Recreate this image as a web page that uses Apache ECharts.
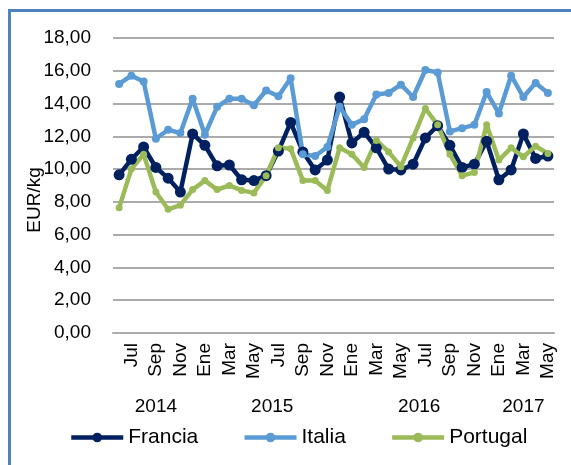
<!DOCTYPE html>
<html>
<head>
<meta charset="utf-8">
<script src="https://cdn.jsdelivr.net/npm/echarts@6/dist/echarts.min.js"></script>
<style>
  html, body { margin: 0; padding: 0; background: #fff; }
  #chart { width: 571px; height: 465px; }
</style>
</head>
<body>
<div id="chart"></div>
<script>
// meses jun 2014 - may 2017
const months = ['Jun','Jul','Ago','Sep','Oct','Nov','Dic',
  'Ene','Feb','Mar','Abr','May','Jun','Jul','Ago','Sep','Oct','Nov','Dic',
  'Ene','Feb','Mar','Abr','May','Jun','Jul','Ago','Sep','Oct','Nov','Dic',
  'Ene','Feb','Mar','Abr','May'];
// year label -> centre of its month group (in month slots)
const years = ['2014', '2015', '2016', '2017'];
const yearCenters = [3.5, 13, 25, 33.5];

const francia = [9.65, 10.6, 11.35, 10.1, 9.45, 8.6, 12.15, 11.45, 10.2, 10.25, 9.35, 9.3,
  9.6, 11.1, 12.85, 11.05, 9.95, 10.55, 14.4, 11.6, 12.25, 11.3, 10.0, 9.95,
  10.3, 11.9, 12.65, 11.45, 10.1, 10.3, 11.7, 9.35, 9.95, 12.15, 10.65, 10.8];
const italia = [15.2, 15.7, 15.35, 11.85, 12.4, 12.2, 14.3, 12.1, 13.8, 14.3, 14.3, 13.9,
  14.8, 14.45, 15.55, 10.9, 10.8, 11.35, 13.8, 12.7, 13.05, 14.55, 14.65, 15.15,
  14.4, 16.05, 15.9, 12.3, 12.5, 12.7, 14.7, 13.4, 15.7, 14.4, 15.25, 14.65];
const portugal = [7.65, 10.0, 10.9, 8.6, 7.55, 7.8, 8.75, 9.3, 8.75, 9.0, 8.7, 8.55,
  9.6, 11.3, 11.25, 9.3, 9.3, 8.7, 11.3, 10.9, 10.1, 11.75, 11.05, 10.15,
  11.9, 13.7, 12.7, 10.9, 9.6, 9.8, 12.7, 10.55, 11.3, 10.75, 11.4, 10.95];

const font = '"Liberation Sans", Arial, sans-serif';
const gridColor = '#ABABAB';

function lineSeries(name, data, color, size) {
  return {
    name: name,
    type: 'line',
    data: data,
    symbol: 'circle',
    symbolSize: size,
    showAllSymbol: true,
    color: color,
    lineStyle: { width: 4.5, color: color },
    itemStyle: { color: color },
    emphasis: { disabled: true }
  };
}

let chart = echarts.init(document.getElementById('chart'));
chart.setOption({
  animation: false,
  textStyle: { fontFamily: font },
  grid: { left: 113, top: 38, width: 441, height: 295 },
  legend: {
    left: 69,
    top: 427,
    padding: 0,
    itemWidth: 52,
    itemHeight: 12,
    itemGap: 44,
    lineStyle: { width: 4.5 },
    textStyle: { fontSize: 21, color: '#000', fontFamily: font },
    data: ['Francia', 'Italia', 'Portugal']
  },
  xAxis: [
    {
      type: 'category',
      data: months,
      boundaryGap: true,
      axisLine: { lineStyle: { color: gridColor, width: 2 } },
      axisTick: { show: false },
      axisLabel: {
        rotate: 90,
        margin: 10,
        fontSize: 19,
        color: '#000',
        interval: function (i) { return i % 2 === 1; }
      }
    },
    {
      // year group labels
      type: 'value',
      position: 'bottom',
      min: 0,
      max: 36,
      interval: 0.5,
      axisLine: { show: false },
      axisTick: { show: false },
      splitLine: { show: false },
      axisLabel: {
        margin: 64,
        fontSize: 19,
        color: '#000',
        formatter: function (v) {
          let k = yearCenters.indexOf(v);
          return k >= 0 ? years[k] : '';
        }
      }
    }
  ],
  yAxis: {
    type: 'value',
    min: 0,
    max: 18,
    interval: 2,
    axisLine: { show: false },
    axisTick: { show: false },
    splitLine: { lineStyle: { color: gridColor, width: 2 } },
    axisLabel: {
      margin: 22,
      fontSize: 19,
      color: '#000',
      formatter: function (v) { return v.toFixed(2).replace('.', ','); }
    }
  },
  graphic: [
    {
      type: 'rect',
      shape: { x: 9.5, y: 10.5, width: 700, height: 600 },
      style: { fill: 'none', stroke: '#4F81BD', lineWidth: 3 },
      silent: true
    },
    {
      type: 'text',
      x: 35,
      y: 200,
      rotation: Math.PI / 2,
      style: {
        text: 'EUR/kg',
        font: '19px ' + font,
        fill: '#000',
        align: 'center',
        verticalAlign: 'middle'
      }
    }
  ],
  series: [
    lineSeries('Francia', francia, '#002060', 11),
    lineSeries('Italia', italia, '#5B9BD5', 8),
    lineSeries('Portugal', portugal, '#9BBB59', 7)
  ]
});
</script>
</body>
</html>
